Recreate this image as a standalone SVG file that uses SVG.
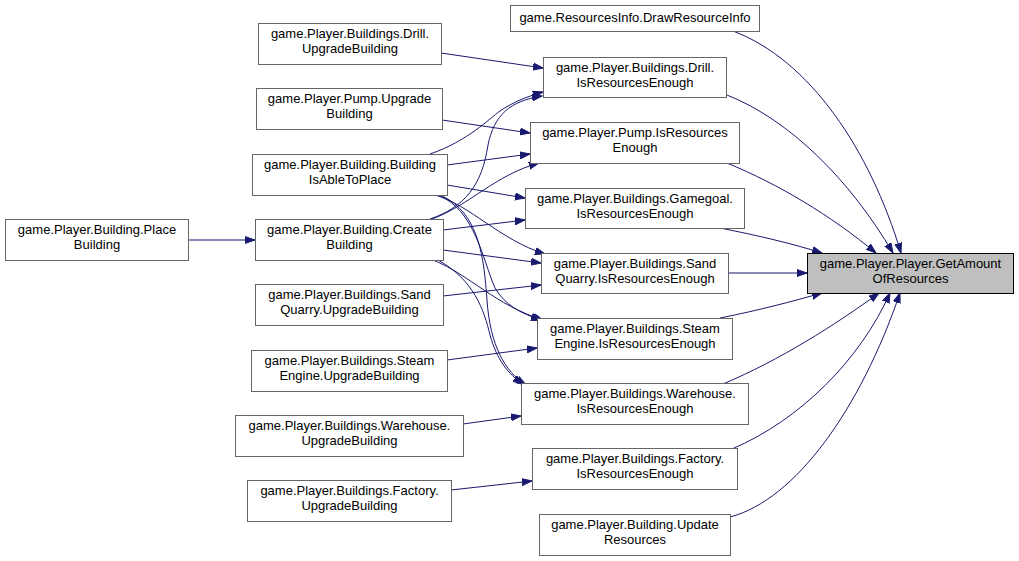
<svg xmlns="http://www.w3.org/2000/svg" width="1019" height="561" viewBox="0 0 1019 561">
<style>
.node rect{fill:#ffffff;stroke:#666666;stroke-width:1}
.node.root rect{fill:#bfbfbf;stroke:#000000}
.node text{font-family:"Liberation Sans",Arial,sans-serif;font-size:13px;fill:#000000;text-anchor:middle}
.edges path{fill:none;stroke:#191970;stroke-width:1;marker-end:url(#arr)}
</style>
<defs>
<marker id="arr" markerUnits="userSpaceOnUse" markerWidth="12" markerHeight="9" refX="10" refY="4" orient="auto">
<path d="M0,0.5 L10,4 L0,7.5 z" fill="#191970" stroke="#191970" stroke-width="1"/>
</marker>
</defs>
<rect width="1019" height="561" fill="#ffffff"/>
<g class="edges" id="edges">
<path d="M188,240 L255,240"/>
<path d="M441,53 L543,68"/>
<path d="M442,120 L530,133"/>
<path d="M430,154 C468,141 490,118 500,111 C512,103 525,97 543,92"/>
<path d="M430,219 C465,207 482,185 488,145 C494,115 510,101 542,96"/>
<path d="M447,165 L530,154"/>
<path d="M432,219 C470,205 495,175 539,163"/>
<path d="M447,185 L525,198"/>
<path d="M443,230 L525,220"/>
<path d="M435,195 C470,205 500,240 545,254"/>
<path d="M443,250 L541,263"/>
<path d="M443,296 L541,285"/>
<path d="M438,195 C475,210 482,258 495,288 C505,305 520,313 541,320"/>
<path d="M440,195 C480,212 484,260 487,300 C490,345 505,372 526,385"/>
<path d="M433,260 C470,275 495,305 543,320"/>
<path d="M438,260 C474,280 484,310 490,335 C497,360 508,374 523,384"/>
<path d="M447,360 L537,348"/>
<path d="M463,424 L521,416"/>
<path d="M451,490 L532,481"/>
<path d="M733,31 C810,60 870,150 901,253"/>
<path d="M727,95 C790,120 850,180 893,253"/>
<path d="M727,163 C780,185 830,215 876,253"/>
<path d="M720,228 C760,236 790,243 822,253"/>
<path d="M728,273 L807,273"/>
<path d="M720,318 C760,310 790,302 822,293"/>
<path d="M723,384 C780,360 835,325 879,293"/>
<path d="M732,449 C800,420 860,360 890,293"/>
<path d="M730,517 C795,500 860,410 900,293"/>
</g>
<g class="node" id="n_place"><rect x="5.5" y="219.5" width="183" height="41"/><text x="97" y="234">game.Player.Building.Place</text><text x="97" y="249">Building</text></g>
<g class="node" id="n_create"><rect x="255.5" y="219.5" width="188" height="41"/><text x="349.5" y="234">game.Player.Building.Create</text><text x="349.5" y="249">Building</text></g>
<g class="node" id="n_isable"><rect x="252.5" y="154.5" width="195" height="41"/><text x="350" y="169">game.Player.Building.Building</text><text x="350" y="184">IsAbleToPlace</text></g>
<g class="node" id="n_drill_up"><rect x="258.5" y="23.5" width="183" height="41"/><text x="350" y="38">game.Player.Buildings.Drill.</text><text x="350" y="53">UpgradeBuilding</text></g>
<g class="node" id="n_pump_up"><rect x="256.5" y="88.5" width="186" height="41"/><text x="349.5" y="103">game.Player.Pump.Upgrade</text><text x="349.5" y="118">Building</text></g>
<g class="node" id="n_sand_up"><rect x="255.5" y="284.5" width="188" height="41"/><text x="349.5" y="299">game.Player.Buildings.Sand</text><text x="349.5" y="314">Quarry.UpgradeBuilding</text></g>
<g class="node" id="n_steam_up"><rect x="251.5" y="350.5" width="196" height="41"/><text x="349.5" y="365">game.Player.Buildings.Steam</text><text x="349.5" y="380">Engine.UpgradeBuilding</text></g>
<g class="node" id="n_ware_up"><rect x="235.5" y="415.5" width="228" height="41"/><text x="349.5" y="430">game.Player.Buildings.Warehouse.</text><text x="349.5" y="445">UpgradeBuilding</text></g>
<g class="node" id="n_fact_up"><rect x="247.5" y="480.5" width="204" height="41"/><text x="349.5" y="495">game.Player.Buildings.Factory.</text><text x="349.5" y="510">UpgradeBuilding</text></g>
<g class="node" id="n_draw"><rect x="510.5" y="5.5" width="249" height="26"/><text x="635" y="22">game.ResourcesInfo.DrawResourceInfo</text></g>
<g class="node" id="n_drill_is"><rect x="543.5" y="57.5" width="183" height="40"/><text x="635" y="72">game.Player.Buildings.Drill.</text><text x="635" y="87">IsResourcesEnough</text></g>
<g class="node" id="n_pump_is"><rect x="530.5" y="122.5" width="209" height="41"/><text x="635" y="137">game.Player.Pump.IsResources</text><text x="635" y="152">Enough</text></g>
<g class="node" id="n_goal_is"><rect x="525.5" y="188.5" width="219" height="40"/><text x="635" y="203">game.Player.Buildings.Gamegoal.</text><text x="635" y="218">IsResourcesEnough</text></g>
<g class="node" id="n_sand_is"><rect x="541.5" y="253.5" width="187" height="40"/><text x="635" y="268">game.Player.Buildings.Sand</text><text x="635" y="283">Quarry.IsResourcesEnough</text></g>
<g class="node" id="n_steam_is"><rect x="537.5" y="318.5" width="195" height="41"/><text x="635" y="333">game.Player.Buildings.Steam</text><text x="635" y="348">Engine.IsResourcesEnough</text></g>
<g class="node" id="n_ware_is"><rect x="521.5" y="383.5" width="227" height="41"/><text x="635" y="398">game.Player.Buildings.Warehouse.</text><text x="635" y="413">IsResourcesEnough</text></g>
<g class="node" id="n_fact_is"><rect x="532.5" y="448.5" width="205" height="41"/><text x="635" y="463">game.Player.Buildings.Factory.</text><text x="635" y="478">IsResourcesEnough</text></g>
<g class="node" id="n_update"><rect x="539.5" y="514.5" width="191" height="41"/><text x="635" y="529">game.Player.Building.Update</text><text x="635" y="544">Resources</text></g>
<g class="node root" id="n_getamount"><rect x="807.5" y="253.5" width="206" height="40"/><text x="910.5" y="268">game.Player.Player.GetAmount</text><text x="910.5" y="283">OfResources</text></g>
</svg>
